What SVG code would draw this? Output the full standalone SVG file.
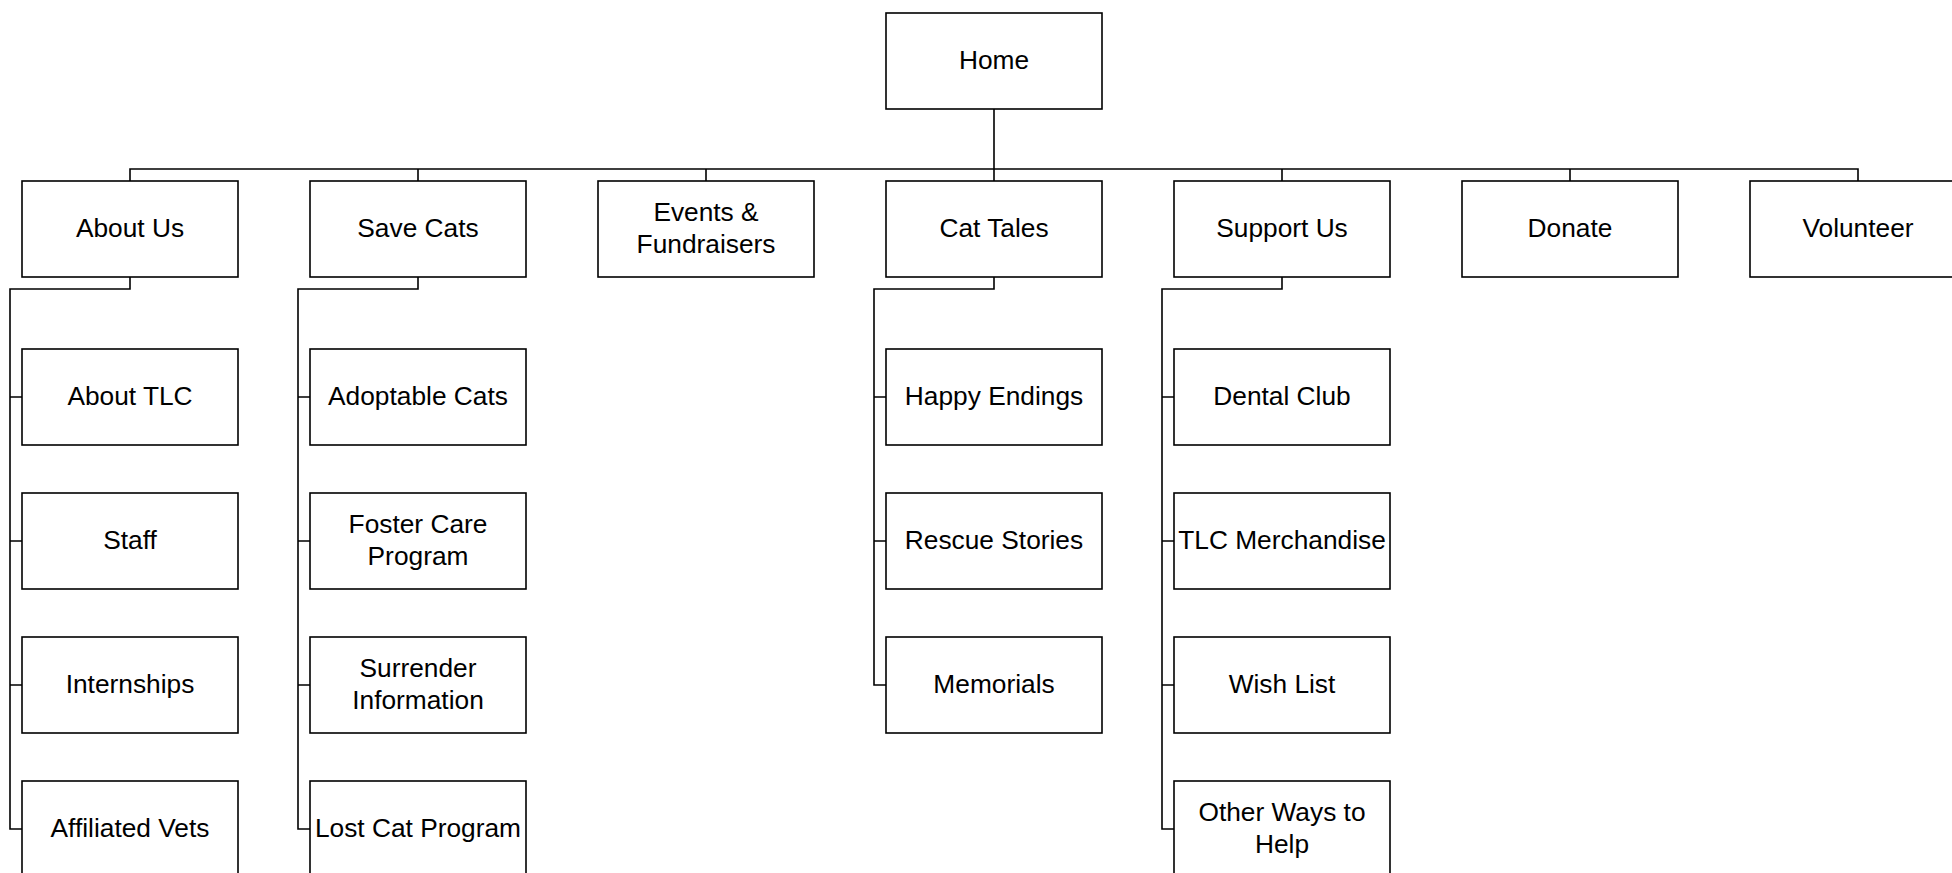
<svg xmlns="http://www.w3.org/2000/svg" width="1952" height="873" viewBox="0 0 1952 873">
<style>
.box{fill:#fff;stroke:#000;stroke-width:1.6}
.t{font-family:"Liberation Sans",Arial,sans-serif;font-size:26.3px;fill:#000;text-anchor:middle}
.c{fill:none;stroke:#000;stroke-width:1.6}
</style>
<rect width="1952" height="873" fill="#fff"/>
<g id="connectors" class="c">
<path d="M994 109V181M130 181V169H1858V181M418 169V181M706 169V181M1282 169V181M1570 169V181"/>
<path d="M130 277V289H10V829H22M10 397H22M10 541H22M10 685H22"/>
<path d="M418 277V289H298V829H310M298 397H310M298 541H310M298 685H310"/>
<path d="M994 277V289H874V685H886M874 397H886M874 541H886"/>
<path d="M1282 277V289H1162V829H1174M1162 397H1174M1162 541H1174M1162 685H1174"/>
</g>
<g id="home"><rect class="box" x="886" y="13" width="216" height="96"/><text class="t" x="994" y="69">Home</text></g>
<g id="about-us"><rect class="box" x="22" y="181" width="216" height="96"/><text class="t" x="130" y="237">About Us</text></g>
<g id="save-cats"><rect class="box" x="310" y="181" width="216" height="96"/><text class="t" x="418" y="237">Save Cats</text></g>
<g id="events"><rect class="box" x="598" y="181" width="216" height="96"/><text class="t" x="706" y="221">Events &amp;</text><text class="t" x="706" y="253">Fundraisers</text></g>
<g id="cat-tales"><rect class="box" x="886" y="181" width="216" height="96"/><text class="t" x="994" y="237">Cat Tales</text></g>
<g id="support-us"><rect class="box" x="1174" y="181" width="216" height="96"/><text class="t" x="1282" y="237">Support Us</text></g>
<g id="donate"><rect class="box" x="1462" y="181" width="216" height="96"/><text class="t" x="1570" y="237">Donate</text></g>
<g id="volunteer"><rect class="box" x="1750" y="181" width="216" height="96"/><text class="t" x="1858" y="237">Volunteer</text></g>
<g id="about-tlc"><rect class="box" x="22" y="349" width="216" height="96"/><text class="t" x="130" y="405">About TLC</text></g>
<g id="staff"><rect class="box" x="22" y="493" width="216" height="96"/><text class="t" x="130" y="549">Staff</text></g>
<g id="internships"><rect class="box" x="22" y="637" width="216" height="96"/><text class="t" x="130" y="693">Internships</text></g>
<g id="affiliated-vets"><rect class="box" x="22" y="781" width="216" height="96"/><text class="t" x="130" y="837">Affiliated Vets</text></g>
<g id="adoptable-cats"><rect class="box" x="310" y="349" width="216" height="96"/><text class="t" x="418" y="405">Adoptable Cats</text></g>
<g id="foster-care"><rect class="box" x="310" y="493" width="216" height="96"/><text class="t" x="418" y="533">Foster Care</text><text class="t" x="418" y="565">Program</text></g>
<g id="surrender"><rect class="box" x="310" y="637" width="216" height="96"/><text class="t" x="418" y="677">Surrender</text><text class="t" x="418" y="709">Information</text></g>
<g id="lost-cat"><rect class="box" x="310" y="781" width="216" height="96"/><text class="t" x="418" y="837">Lost Cat Program</text></g>
<g id="happy-endings"><rect class="box" x="886" y="349" width="216" height="96"/><text class="t" x="994" y="405">Happy Endings</text></g>
<g id="rescue-stories"><rect class="box" x="886" y="493" width="216" height="96"/><text class="t" x="994" y="549">Rescue Stories</text></g>
<g id="memorials"><rect class="box" x="886" y="637" width="216" height="96"/><text class="t" x="994" y="693">Memorials</text></g>
<g id="dental-club"><rect class="box" x="1174" y="349" width="216" height="96"/><text class="t" x="1282" y="405">Dental Club</text></g>
<g id="tlc-merch"><rect class="box" x="1174" y="493" width="216" height="96"/><text class="t" x="1282" y="549">TLC Merchandise</text></g>
<g id="wish-list"><rect class="box" x="1174" y="637" width="216" height="96"/><text class="t" x="1282" y="693">Wish List</text></g>
<g id="other-ways"><rect class="box" x="1174" y="781" width="216" height="96"/><text class="t" x="1282" y="821">Other Ways to</text><text class="t" x="1282" y="853">Help</text></g>
</svg>
